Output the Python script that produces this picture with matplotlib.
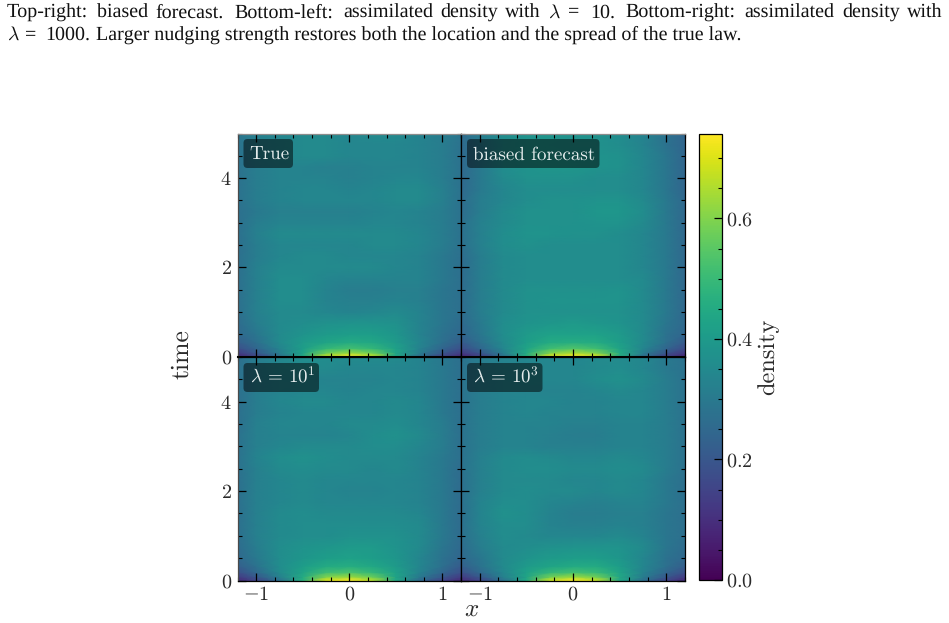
import matplotlib
matplotlib.use("Agg")
import matplotlib.pyplot as plt
import numpy as np
from matplotlib.patches import FancyBboxPatch
from matplotlib.ticker import MultipleLocator

plt.rcParams["font.family"] = ["cmr10", "DejaVu Sans"]
plt.rcParams["mathtext.fontset"] = "cm"
plt.rcParams["axes.formatter.use_mathtext"] = True
plt.rcParams["axes.unicode_minus"] = False
plt.rcParams["text.hinting"] = "no_hinting"
plt.rcParams["text.hinting_factor"] = 1

# Sample positions of the density field
x_nodes = [-1.2, -1.0, -0.75, -0.5, -0.25, 0.0, 0.25, 0.5, 0.75, 1.0, 1.2]
t_nodes = [0, 0.08, 0.18, 0.32, 0.5, 0.75, 1, 1.25, 1.5, 1.75, 2, 2.25, 2.5, 2.75,
           3, 3.25, 3.5, 3.75, 4, 4.25, 4.5, 4.75, 5]

density_true = [
    [.09, .15, .27, .44, .68, .74, .68, .44, .27, .15, .09],
    [.13, .20, .31, .42, .58, .63, .58, .43, .31, .20, .13],
    [.18, .24, .33, .41, .49, .52, .49, .42, .33, .24, .18],
    [.22, .27, .35, .40, .43, .45, .44, .40, .34, .27, .22],
    [.25, .29, .35, .38, .40, .41, .41, .39, .33, .28, .25],
    [.26, .31, .35, .36, .37, .38, .38, .37, .33, .29, .26],
    [.27, .32, .35, .35, .34, .33, .34, .35, .33, .29, .27],
    [.27, .32, .36, .36, .33, .32, .32, .33, .32, .29, .27],
    [.27, .32, .36, .36, .33, .31, .31, .32, .32, .29, .27],
    [.27, .32, .36, .36, .34, .33, .33, .33, .33, .30, .27],
    [.27, .32, .35, .35, .35, .35, .35, .34, .33, .30, .27],
    [.27, .31, .34, .35, .35, .34, .34, .34, .33, .30, .27],
    [.27, .31, .34, .34, .34, .34, .35, .35, .34, .31, .28],
    [.27, .32, .35, .35, .35, .35, .35, .35, .34, .31, .28],
    [.27, .31, .33, .33, .33, .33, .34, .34, .33, .31, .28],
    [.27, .30, .32, .32, .32, .32, .33, .34, .33, .31, .28],
    [.28, .31, .33, .34, .34, .34, .34, .35, .35, .32, .28],
    [.28, .31, .33, .34, .34, .33, .34, .35, .35, .32, .28],
    [.28, .31, .33, .33, .33, .32, .33, .34, .34, .31, .28],
    [.28, .31, .33, .33, .32, .32, .33, .33, .33, .31, .28],
    [.28, .32, .34, .35, .35, .34, .34, .34, .33, .31, .28],
    [.28, .32, .34, .35, .35, .34, .34, .34, .33, .31, .28],
    [.29, .32, .34, .35, .35, .34, .35, .35, .33, .31, .29],
]

density_forecast = [
    [.08, .14, .27, .46, .71, .74, .71, .46, .27, .14, .08],
    [.12, .19, .31, .45, .60, .65, .60, .45, .31, .19, .12],
    [.17, .24, .34, .43, .51, .54, .51, .43, .34, .24, .17],
    [.21, .27, .35, .41, .45, .46, .45, .41, .35, .27, .21],
    [.24, .29, .36, .40, .42, .42, .42, .40, .35, .28, .24],
    [.25, .30, .36, .38, .39, .40, .39, .38, .35, .29, .25],
    [.26, .31, .35, .37, .37, .37, .37, .37, .35, .30, .25],
    [.26, .31, .35, .37, .38, .38, .38, .38, .35, .30, .25],
    [.26, .31, .35, .37, .37, .37, .37, .38, .35, .30, .25],
    [.26, .31, .35, .36, .36, .36, .36, .36, .35, .30, .25],
    [.26, .31, .35, .36, .36, .36, .36, .36, .34, .30, .25],
    [.26, .31, .35, .36, .36, .36, .36, .36, .34, .30, .25],
    [.27, .32, .36, .37, .36, .36, .36, .36, .34, .30, .25],
    [.27, .32, .36, .38, .38, .37, .37, .36, .34, .30, .25],
    [.27, .32, .35, .37, .37, .37, .38, .38, .35, .30, .25],
    [.26, .31, .35, .37, .37, .37, .39, .39, .36, .30, .25],
    [.26, .31, .34, .36, .37, .37, .38, .38, .35, .30, .25],
    [.25, .30, .34, .36, .36, .36, .36, .36, .34, .29, .24],
    [.25, .30, .35, .37, .37, .37, .36, .36, .34, .29, .24],
    [.25, .30, .36, .38, .39, .39, .38, .37, .34, .29, .24],
    [.25, .30, .36, .39, .39, .38, .38, .37, .34, .29, .24],
    [.25, .30, .36, .38, .38, .37, .37, .36, .33, .28, .24],
    [.26, .31, .36, .38, .39, .38, .38, .36, .33, .28, .24],
]

density_weak = [
    [.09, .15, .27, .46, .70, .74, .66, .44, .26, .15, .09],
    [.13, .20, .32, .45, .60, .63, .57, .43, .30, .20, .13],
    [.18, .25, .35, .43, .51, .53, .49, .42, .33, .24, .18],
    [.22, .28, .36, .41, .45, .46, .44, .40, .34, .27, .21],
    [.25, .30, .36, .39, .41, .42, .41, .39, .34, .28, .24],
    [.26, .31, .36, .38, .39, .40, .40, .38, .35, .29, .25],
    [.27, .32, .35, .36, .36, .37, .37, .37, .35, .30, .26],
    [.27, .32, .35, .36, .36, .36, .36, .36, .35, .30, .26],
    [.27, .32, .35, .36, .35, .35, .35, .35, .34, .30, .26],
    [.27, .32, .34, .35, .34, .34, .34, .34, .33, .30, .26],
    [.27, .32, .34, .35, .34, .33, .33, .34, .33, .30, .26],
    [.27, .32, .34, .35, .34, .34, .34, .34, .33, .30, .26],
    [.28, .32, .35, .36, .35, .35, .34, .35, .33, .30, .26],
    [.28, .33, .36, .37, .36, .35, .35, .35, .33, .30, .27],
    [.28, .32, .34, .35, .35, .35, .36, .36, .34, .31, .27],
    [.28, .32, .33, .33, .33, .34, .36, .37, .35, .31, .27],
    [.27, .32, .34, .34, .34, .35, .35, .36, .34, .31, .27],
    [.27, .31, .33, .34, .34, .34, .34, .35, .34, .30, .27],
    [.27, .31, .34, .35, .35, .34, .34, .35, .34, .30, .27],
    [.27, .31, .33, .34, .34, .33, .34, .34, .33, .30, .27],
    [.27, .31, .33, .34, .33, .33, .33, .34, .33, .30, .27],
    [.27, .31, .34, .35, .35, .34, .34, .34, .33, .30, .27],
    [.27, .31, .34, .36, .36, .35, .35, .35, .33, .30, .27],
]

density_strong = [
    [.09, .15, .27, .44, .68, .74, .68, .44, .27, .15, .09],
    [.13, .20, .32, .43, .58, .63, .58, .44, .31, .20, .13],
    [.18, .25, .34, .42, .49, .52, .50, .43, .33, .24, .18],
    [.22, .28, .35, .40, .43, .45, .45, .41, .34, .27, .22],
    [.25, .29, .35, .38, .40, .41, .41, .39, .34, .28, .25],
    [.26, .31, .35, .36, .37, .38, .38, .38, .35, .29, .26],
    [.27, .32, .36, .35, .34, .34, .34, .35, .33, .29, .27],
    [.27, .33, .36, .36, .33, .32, .32, .33, .32, .29, .27],
    [.27, .33, .37, .36, .33, .31, .31, .32, .32, .29, .27],
    [.27, .33, .36, .36, .34, .33, .32, .33, .33, .30, .27],
    [.27, .32, .35, .36, .35, .35, .34, .35, .34, .30, .27],
    [.27, .32, .35, .35, .35, .34, .34, .35, .34, .30, .27],
    [.28, .32, .35, .36, .36, .35, .35, .36, .35, .31, .28],
    [.28, .32, .35, .36, .35, .34, .34, .35, .34, .31, .28],
    [.28, .31, .33, .33, .32, .32, .32, .33, .33, .31, .28],
    [.28, .31, .33, .33, .32, .31, .31, .33, .33, .31, .28],
    [.28, .31, .33, .33, .33, .32, .32, .33, .33, .31, .28],
    [.28, .31, .33, .34, .33, .33, .33, .34, .34, .31, .28],
    [.28, .31, .33, .34, .34, .33, .33, .34, .34, .31, .28],
    [.28, .31, .33, .33, .33, .33, .34, .35, .34, .31, .28],
    [.28, .31, .33, .34, .34, .34, .36, .37, .35, .31, .28],
    [.28, .31, .33, .34, .34, .34, .35, .36, .34, .30, .28],
    [.28, .31, .33, .34, .34, .34, .35, .35, .34, .30, .28],
]

panel_labels = ["True", "biased forecast", r"$\lambda\,=\,10^1$", r"$\lambda\,=\,10^3$"]
panel_fields = [density_true, density_forecast, density_weak, density_strong]

# Justified caption, placed piece by piece along each baseline
caption_words = ["Top-right:", "biased", "forecast.", "Bottom-left:", "assimilated",
                 "density", "with", r"$\lambda$", "=", "10.", "Bottom-right:",
                 "assimilated", "density", "with"]
caption_word_px = [7, 97, 155, 234, 343, 440, 505, 548, 568, 590, 625, 744, 842, 907]
caption_tail = [r"$\lambda$", "=", "1000.",
                "Larger nudging strength restores both the location and the spread of the true law."]
caption_tail_px = [7, 25, 45, 96]

W, H = 949, 623
fig = plt.figure(figsize=(W / 100, H / 100), dpi=100)
INK = "#2b2b2b"


def box(x0, y0, x1, y1):
    """Axes rectangle from pixel edges measured from the top left."""
    return [x0 / W, 1 - y1 / H, (x1 - x0) / W, (y1 - y0) / H]


rects = [
    box(237.5, 133.5, 461, 356.5),
    box(461, 133.5, 685, 356.5),
    box(237.5, 357, 461, 580.5),
    box(461, 357, 685, 580.5),
]
# Pixel geometry of the label plates: left, right, top, baseline of the text
plate_px = [
    (243.5, 293, 139, 159.5),
    (467, 599.5, 139, 159.5),
    (243.5, 319, 363, 382.5),
    (467, 542.5, 363, 382.5),
]
PLATE_H = 29

X, T = np.meshgrid(x_nodes, t_nodes)
mesh = None
for i, (rect, field) in enumerate(zip(rects, panel_fields)):
    ax = fig.add_axes(rect)
    mesh = ax.pcolormesh(X, T, np.array(field), shading="gouraud",
                         cmap="viridis", vmin=0, vmax=0.74, rasterized=True)
    ax.set_xlim(-1.2, 1.2)
    ax.set_ylim(0, 5)
    ax.xaxis.set_major_locator(MultipleLocator(1))
    ax.xaxis.set_minor_locator(MultipleLocator(0.2))
    ax.yaxis.set_major_locator(MultipleLocator(2))
    ax.yaxis.set_minor_locator(MultipleLocator(0.5))
    ax.tick_params(which="major", direction="in", top=True, right=True,
                   length=6, width=0.9, labelsize=14.5, pad=4, labelcolor=INK)
    ax.tick_params(which="minor", direction="in", top=True, right=True,
                   length=3, width=0.8)
    ax.tick_params(axis="x", labelbottom=i >= 2)
    ax.tick_params(axis="y", labelleft=i % 2 == 0)
    if i >= 2:
        ax.set_xticks([-1, 0, 1], ["$-1$", "$0$", "$1$"])
    if i % 2 == 0:
        ax.set_yticks([0, 2, 4], ["$0$", "$2$", "$4$"])
    for spine in ax.spines.values():
        spine.set_linewidth(0.9)
    if i < 2:
        ax.spines["top"].set_color("#8c8c8c")
        ax.spines["bottom"].set_linewidth(1.5)
    if i % 2 == 0:
        ax.spines["left"].set_color("#4a4a4a")

for (x0, x1, top, base), label in zip(plate_px, panel_labels):
    fig.add_artist(FancyBboxPatch((x0 + 4, H - top - PLATE_H + 4), x1 - x0 - 8, PLATE_H - 8,
                                  boxstyle="round,pad=4,rounding_size=4",
                                  transform=None, facecolor="black", alpha=0.5,
                                  edgecolor="none", zorder=5))
    fig.text((x0 + 6) / W, 1 - base / H, label, fontsize=13.7, color="#e4ecec",
             ha="left", va="baseline", zorder=6)

cax = fig.add_axes(box(699, 134, 722, 580))
cbar = fig.colorbar(mesh, cax=cax)
cbar.set_ticks([0, 0.2, 0.4, 0.6], labels=["$0.0$", "$0.2$", "$0.4$", "$0.6$"])
cbar.ax.yaxis.set_minor_locator(MultipleLocator(0.05))
cax.tick_params(which="major", direction="in", right=True, length=6, width=0.9,
                labelsize=14.5, pad=3, labelcolor=INK)
cax.tick_params(which="minor", direction="in", right=True, length=3, width=0.8)
cbar.outline.set_linewidth(0.9)
cbar.set_label("density", fontsize=17.5, labelpad=3, color=INK)

fig.text(472 / W, 1 - 616 / H, "$x$", fontsize=18, ha="center", va="baseline", color=INK)
fig.text(182 / W, 1 - 354 / H, "time", fontsize=18.5, rotation=90, ha="center", va="center",
         color=INK)

serif = ["Liberation Serif", "DejaVu Serif"]
for px, word in zip(caption_word_px, caption_words):
    fig.text(px / W, 1 - 17.5 / H, word, fontsize=14.1, ha="left", va="baseline",
             family=serif, color="#111111")
for px, word in zip(caption_tail_px, caption_tail):
    fig.text(px / W, 1 - 40 / H, word, fontsize=14.1, ha="left", va="baseline",
             family=serif, color="#111111")

fig.savefig("out.png", dpi=100)
